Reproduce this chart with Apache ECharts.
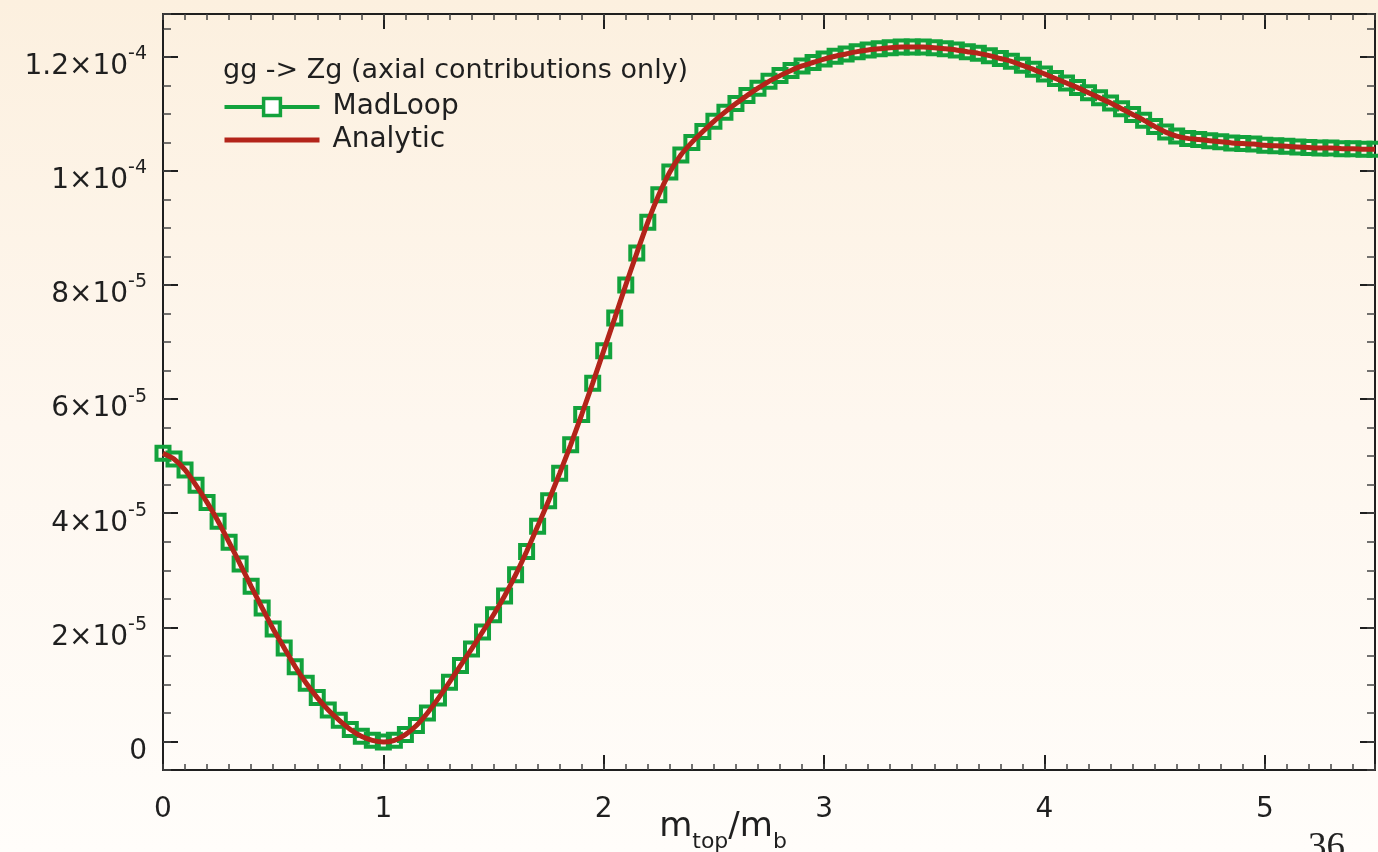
<!DOCTYPE html>
<html>
<head>
<meta charset="utf-8">
<title>gg -> Zg</title>
<script src="https://cdn.jsdelivr.net/npm/echarts@6/dist/echarts.min.js"></script>
<style>
html, body { margin: 0; padding: 0; background: #fef7ee; }
#main { width: 1378px; height: 852px; }
</style>
</head>
<body>
<div id="main"></div>
<script>
// m_top / m_b sample points
var mRatio = [
	0.00, 0.05, 0.10, 0.15, 0.20, 0.25, 0.30, 0.35, 0.40, 0.45,
	0.50, 0.55, 0.60, 0.65, 0.70, 0.75, 0.80, 0.85, 0.90, 0.95,
	1.00, 1.05, 1.10, 1.15, 1.20, 1.25, 1.30, 1.35, 1.40, 1.45,
	1.50, 1.55, 1.60, 1.65, 1.70, 1.75, 1.80, 1.85, 1.90, 1.95,
	2.00, 2.05, 2.10, 2.15, 2.20, 2.25, 2.30, 2.35, 2.40, 2.45,
	2.50, 2.55, 2.60, 2.65, 2.70, 2.75, 2.80, 2.85, 2.90, 2.95,
	3.00, 3.05, 3.10, 3.15, 3.20, 3.25, 3.30, 3.35, 3.40, 3.45,
	3.50, 3.55, 3.60, 3.65, 3.70, 3.75, 3.80, 3.85, 3.90, 3.95,
	4.00, 4.05, 4.10, 4.15, 4.20, 4.25, 4.30, 4.35, 4.40, 4.45,
	4.50, 4.55, 4.60, 4.65, 4.70, 4.75, 4.80, 4.85, 4.90, 4.95,
	5.00, 5.05, 5.10, 5.15, 5.20, 5.25, 5.30, 5.35, 5.40, 5.45,
	5.50
];

// MadLoop points, in units of 1e-5
var madloop = [
	5.05, 4.95, 4.76, 4.49, 4.19, 3.86, 3.49, 3.11, 2.72, 2.34,
	1.97, 1.64, 1.31, 1.02, 0.77, 0.55, 0.37, 0.21, 0.09, 0.02,
	-0.01, 0.02, 0.12, 0.28, 0.50, 0.76, 1.04, 1.33, 1.62, 1.92,
	2.22, 2.55, 2.92, 3.33, 3.77, 4.22, 4.70, 5.20, 5.73, 6.28,
	6.85, 7.42, 8.00, 8.56, 9.10, 9.58, 9.98, 10.28, 10.50, 10.69,
	10.87, 11.03, 11.18, 11.32, 11.45, 11.57, 11.67, 11.76, 11.84, 11.90,
	11.96, 12.01, 12.05, 12.09, 12.12, 12.14, 12.16, 12.17, 12.17, 12.17,
	12.16, 12.14, 12.12, 12.09, 12.06, 12.02, 11.97, 11.92, 11.85, 11.78,
	11.70, 11.62, 11.54, 11.46, 11.37, 11.28, 11.19, 11.09, 10.99, 10.89,
	10.78, 10.68, 10.61, 10.57, 10.55, 10.53, 10.51, 10.49, 10.48, 10.47,
	10.45, 10.44, 10.43, 10.42, 10.41, 10.40, 10.40, 10.39, 10.39, 10.38,
	10.38
];

// analytic curve, same grid (agrees with MadLoop within line width)
var analytic = madloop.slice();

var xTicks = [0, 1, 2, 3, 4, 5];
var yTicks = [0, 2, 4, 6, 8, 10, 12];

var GREEN = '#12a23c';
var RED = '#b3241a';
var INK = '#1f1f1f';
var FONT = 'DejaVu Sans';

function pairs(xs, ys) {
	var out = [];
	for (var i = 0; i < xs.length; i++) {
		out.push([xs[i], ys[i]]);
	}
	return out;
}

function yLabel(v) {
	if (v === 0) return '{b|0}';
	if (v >= 10) return '{b|' + (v / 10) + '×10}{s|-4}';
	return '{b|' + v + '×10}{s|-5}';
}

// frame axes: major ticks with long marks, minor ones short
function xFrame(pos, major, labels) {
	var ax = {
		type : 'value',
		position : pos,
		min : 0,
		max : 5.5,
		splitLine : { show : false },
		axisLine : { show : major, onZero : false, lineStyle : { color : INK, width : 2 } },
		axisLabel : { show : false }
	};
	if (major) {
		ax.interval = 1;
		ax.axisTick = { inside : true, length : 15, customValues : xTicks, lineStyle : { color : INK, width : 2 } };
	} else {
		ax.interval = 0.1;
		ax.axisTick = { inside : true, length : 6, lineStyle : { color : '#444', width : 1.5 } };
	}
	if (labels) {
		ax.axisLabel = {
			show : true,
			customValues : xTicks,
			margin : 26,
			color : INK,
			fontFamily : FONT,
			fontSize : 28
		};
		ax.name = '{m|m}{sub|top}{m|/m}{sub|b}';
		ax.nameLocation = 'middle';
		ax.nameGap = 40;
		ax.nameMoveOverlap = false;
		ax.nameTextStyle = {
			padding : [0, 92, 0, 0],
			rich : {
				m : { fontFamily : FONT, fontSize : 34, lineHeight : 34, verticalAlign : 'top', color : INK },
				sub : { fontFamily : FONT, fontSize : 22, lineHeight : 64, verticalAlign : 'middle', color : INK }
			}
		};
	}
	return ax;
}

function yFrame(pos, major, labels) {
	var ax = {
		type : 'value',
		position : pos,
		min : -0.5,
		max : 12.75,
		interval : 0.5,
		splitLine : { show : false },
		axisLine : { show : major, onZero : false, lineStyle : { color : INK, width : 2 } },
		axisLabel : { show : false }
	};
	if (major) {
		ax.axisTick = { inside : true, length : 15, customValues : yTicks, lineStyle : { color : INK, width : 2 } };
	} else {
		ax.axisTick = { inside : true, length : 8, lineStyle : { color : '#444', width : 1.5 } };
	}
	if (labels) {
		ax.axisLabel = {
			show : true,
			customValues : yTicks,
			margin : 16,
			padding : [12, 0, 0, 0],
			formatter : yLabel,
			rich : {
				b : { fontFamily : FONT, fontSize : 28, lineHeight : 36, verticalAlign : 'bottom', color : INK },
				s : { fontFamily : FONT, fontSize : 19, lineHeight : 2, verticalAlign : 'top', color : INK }
			}
		};
	}
	return ax;
}

var option = {
	animation : false,
	backgroundColor : new echarts.graphic.LinearGradient(0, 0, 0, 1, [
		{ offset : 0, color : '#fcf0df' },
		{ offset : 0.5, color : '#fef7ef' },
		{ offset : 1, color : '#fffdfa' }
	]),
	grid : { left : 163, right : 3, top : 14, bottom : 82, outerBoundsMode : 'none', containLabel : false },
	title : {
		text : 'gg -> Zg (axial contributions only)',
		left : 223,
		top : 57,
		padding : 0,
		textStyle : { fontFamily : FONT, fontSize : 27, fontWeight : 'normal', color : INK }
	},
	legend : {
		orient : 'vertical',
		left : 222,
		top : 93,
		padding : 0,
		itemWidth : 95,
		itemHeight : 21,
		itemGap : 5,
		textStyle : { fontFamily : FONT, fontSize : 28, lineHeight : 24, color : INK, padding : [0, 0, 0, 8] },
		data : [
			{ name : 'MadLoop', itemStyle : { color : '#ffffff', borderColor : GREEN, borderWidth : 3.5 }, lineStyle : { width : 4 } },
			{ name : 'Analytic', itemStyle : { opacity : 0 }, lineStyle : { width : 5 } }
		]
	},
	xAxis : [
		xFrame('bottom', true, true),
		xFrame('bottom', false, false),
		xFrame('top', true, false),
		xFrame('top', false, false)
	],
	yAxis : [
		yFrame('left', true, true),
		yFrame('left', false, false),
		yFrame('right', true, false),
		yFrame('right', false, false)
	],
	series : [{
		name : 'MadLoop',
		type : 'line',
		xAxisIndex : 0,
		yAxisIndex : 0,
		data : pairs(mRatio, madloop),
		symbol : 'rect',
		symbolSize : 13,
		itemStyle : { color : 'rgba(255,255,255,0)', borderColor : GREEN, borderWidth : 4 },
		lineStyle : { color : GREEN, width : 3.5 },
		z : 2
	}, {
		name : 'Analytic',
		type : 'line',
		xAxisIndex : 0,
		yAxisIndex : 0,
		data : pairs(mRatio, analytic),
		symbol : 'none',
		smooth : 0.2,
		itemStyle : { color : RED },
		lineStyle : { color : RED, width : 5 },
		z : 3
	}],
	graphic : [{
		type : 'text',
		left : 1308,
		top : 830,
		style : { text : '36', font : '37px "Liberation Serif"', fill : '#222' }
	}]
};

var chart = echarts.init(document.getElementById('main'));
chart.setOption(option);
</script>
</body>
</html>
